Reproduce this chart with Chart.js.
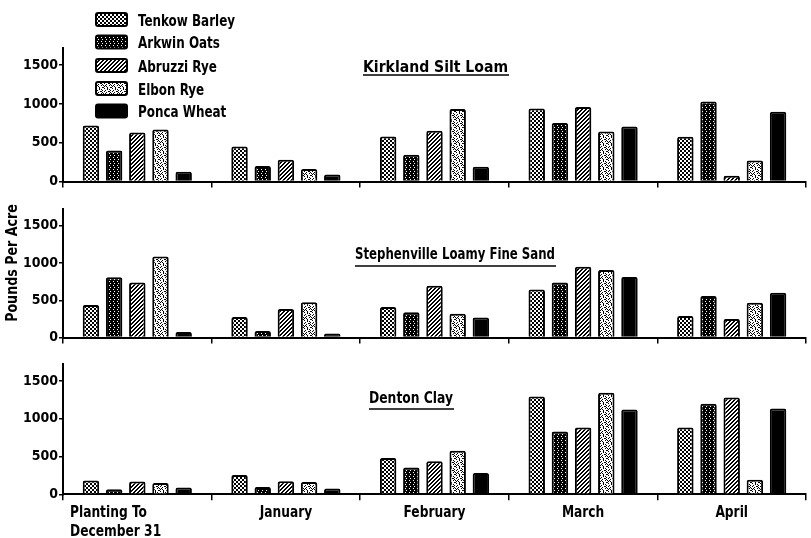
<!DOCTYPE html>
<html>
<head>
<meta charset="utf-8">
<script src="https://cdn.jsdelivr.net/npm/chart.js@4.4.0/dist/chart.umd.min.js"></script>
<style>
  body { margin: 0; background: #fff; width: 811px; height: 538px; position: relative; overflow: hidden; }
  canvas { position: absolute; left: 0; }
</style>
</head>
<body>
<canvas id="p1" width="811" height="200" style="top:0px"></canvas>
<canvas id="p2" width="811" height="155" style="top:200px"></canvas>
<canvas id="p3" width="811" height="183" style="top:355px"></canvas>
<script>
const categories = [['Planting To', 'December 31'], 'January', 'February', 'March', 'April'];
const crops = ['Tenkow Barley', 'Arkwin Oats', 'Abruzzi Rye', 'Elbon Rye', 'Ponca Wheat'];
const yTicks = [0, 500, 1000, 1500];
const yMax = 1720;

// one row per crop, in the order of crops[]
const kirkland = [
  [720, 450, 580, 940, 575],
  [400, 200, 345, 755, 1030],
  [630, 280, 655, 960, 75],
  [670, 160, 935, 645, 270],
  [125, 90, 190, 710, 900]
];
const stephenville = [
  [438, 275, 408, 643, 288],
  [810, 87, 340, 737, 558],
  [737, 382, 695, 950, 250],
  [1087, 472, 318, 908, 468],
  [75, 53, 267, 814, 600]
];
const denton = [
  [183, 256, 482, 1295, 885],
  [68, 97, 354, 833, 1200],
  [170, 174, 436, 885, 1282],
  [149, 162, 577, 1346, 192],
  [90, 77, 282, 1123, 1136]
];

const family = "'DejaVu Sans Condensed', 'Liberation Sans Narrow', 'DejaVu Sans', sans-serif";
const font = (size) => 'bold ' + size + 'px ' + family;

// small bitmap tiles for the hatch fills ('#' = ink)
function tile(rows) {
  const c = document.createElement('canvas');
  c.width = rows[0].length;
  c.height = rows.length;
  const g = c.getContext('2d');
  g.fillStyle = '#fff';
  g.fillRect(0, 0, c.width, c.height);
  g.fillStyle = '#000';
  rows.forEach((r, y) => {
    for (let x = 0; x < r.length; x++) if (r[x] === '#') g.fillRect(x, y, 1, 1);
  });
  return g.createPattern(c, 'repeat');
}

const fills = [
  tile(['..##', '..##', '##..', '##..']),
  tile(['####', '#.##', '####', '##.#']),
  tile(['..##', '.##.', '##..', '#..#']),
  tile(['#..#....', '...#.#..', '.#....#.', '#...##..', '..#...#.', '.#...#.#', '#.#.....', '...#..##']),
  '#000'
];

function roundBox(ctx, x, y, w, h, fill) {
  ctx.beginPath();
  ctx.roundRect(x, y, w, h, 2);
  ctx.fillStyle = fill;
  ctx.fill();
  ctx.lineWidth = 2;
  ctx.strokeStyle = '#000';
  ctx.stroke();
}

// narrow lettering: draw text squeezed horizontally
function label(ctx, text, x, y, align, sx) {
  ctx.save();
  ctx.translate(x, y);
  ctx.scale(sx, 1);
  ctx.textAlign = align;
  ctx.fillText(text, 0, 0);
  ctx.restore();
}

const panelText = {
  id: 'panelText',
  afterDraw(chart, args, opts) {
    const ctx = chart.ctx;
    ctx.save();
    ctx.fillStyle = '#000';
    ctx.strokeStyle = '#000';
    ctx.textBaseline = 'alphabetic';
    ctx.font = font(16);

    // soil name, underlined
    const sx = opts.titleW / ctx.measureText(opts.title).width;
    label(ctx, opts.title, opts.titleX, opts.titleY, 'left', sx);
    ctx.beginPath();
    ctx.lineWidth = 1.5;
    ctx.moveTo(opts.titleX, opts.lineY);
    ctx.lineTo(opts.titleX + opts.titleW + 1, opts.lineY);
    ctx.stroke();

    if (opts.legend) {
      const ys = [19.5, 42, 65.5, 88.5, 111];
      crops.forEach((name, i) => {
        roundBox(ctx, 96, ys[i] - 6.5, 31, 13, fills[i]);
        ctx.fillStyle = '#000';
        label(ctx, name, 138, ys[i] + 6, 'left', 0.83);
      });
    }

    if (opts.yLabel) {
      ctx.save();
      ctx.translate(13, 63);
      ctx.rotate(-Math.PI / 2);
      ctx.textBaseline = 'middle';
      label(ctx, 'Pounds Per Acre', 0, 0, 'center', 0.88);
      ctx.restore();
    }

    if (opts.xLabels) {
      const xs = chart.scales.x;
      categories.forEach((c, i) => {
        const lines = Array.isArray(c) ? c : [c];
        lines.forEach((t, k) => {
          if (i === 0) label(ctx, t, chart.chartArea.left + 7, 162 + k * 19, 'left', 0.85);
          else label(ctx, t, xs.getPixelForTick(i), 162 + k * 19, 'center', 0.85);
        });
      });
    }
    ctx.restore();
  }
};

function panel(id, values, cfg) {
  return new Chart(document.getElementById(id), {
    type: 'bar',
    data: {
      labels: categories,
      datasets: crops.map((name, i) => ({
        label: name,
        data: values[i],
        backgroundColor: fills[i],
        borderColor: '#000',
        borderWidth: 2,
        borderRadius: 2
      }))
    },
    options: {
      responsive: false,
      animation: false,
      devicePixelRatio: 1,
      layout: { padding: { top: cfg.top, left: 22, right: 5, bottom: 0 } },
      datasets: { bar: { barPercentage: 0.71, categoryPercentage: 0.78 } },
      plugins: { legend: { display: false }, tooltip: { enabled: false }, panelText: cfg },
      scales: {
        x: {
          grid: { drawOnChartArea: false, color: '#000', tickLength: 6, lineWidth: 1.5 },
          border: { color: '#000', width: 2 },
          ticks: { display: false },
          afterFit: (s) => { s.height = cfg.xHeight; }
        },
        y: {
          min: 0,
          max: yMax,
          afterBuildTicks: (s) => { s.ticks = yTicks.map(v => ({ value: v })); },
          ticks: {
            color: '#000',
            font: { family: family, size: 14, weight: 'bold' },
            padding: 1,
            callback: (v) => String(v)
          },
          grid: { drawOnChartArea: false, color: '#000', tickLength: 4, lineWidth: 1.5 },
          border: { color: '#000', width: 2 },
          afterFit: (s) => { s.width = 41; }
        }
      }
    },
    plugins: [panelText]
  });
}

panel('p1', kirkland, { top: 48, xHeight: 18.5, title: 'Kirkland Silt Loam', titleX: 363, titleW: 145, titleY: 72, lineY: 75, legend: true });
panel('p2', stephenville, { top: 5, xHeight: 17.5, title: 'Stephenville Loamy Fine Sand', titleX: 355, titleW: 200, titleY: 59, lineY: 66, yLabel: true });
panel('p3', denton, { top: 6.7, xHeight: 43.7, title: 'Denton Clay', titleX: 369, titleW: 84, titleY: 48, lineY: 54, xLabels: true });
</script>
</body>
</html>
